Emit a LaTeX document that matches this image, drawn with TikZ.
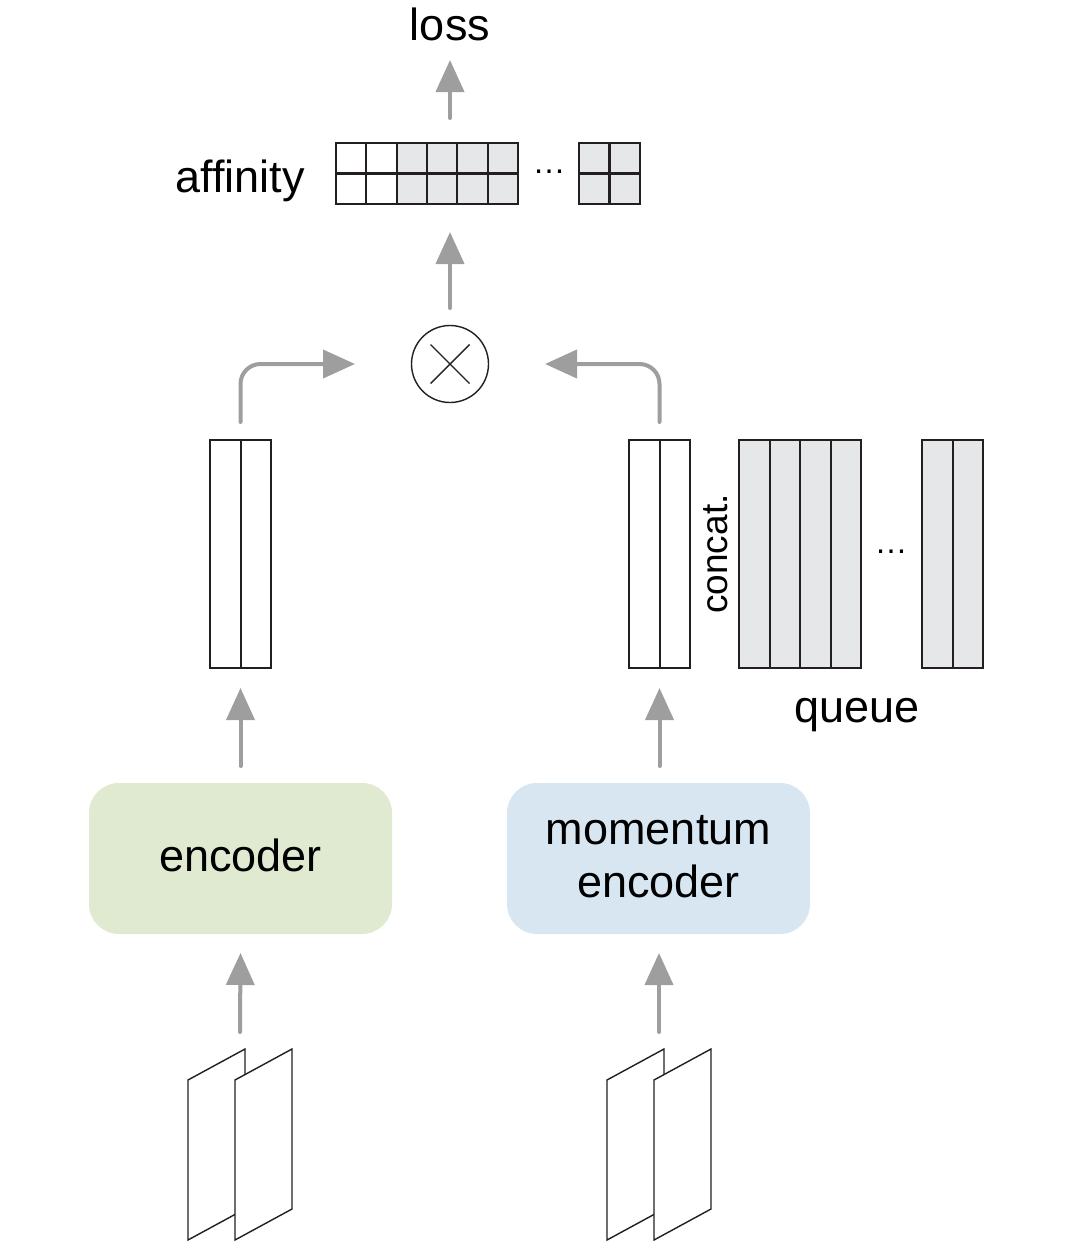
\documentclass[tikz,border=0pt]{standalone}
\usepackage{fontspec}
\setmainfont{Liberation Sans}
\usetikzlibrary{arrows.meta}
\definecolor{arrowgray}{RGB}{158,158,158}
\definecolor{cellgray}{RGB}{230,231,233}
\definecolor{encgreen}{RGB}{223,234,209}
\definecolor{encblue}{RGB}{215,230,241}
\definecolor{ink}{RGB}{35,31,32}
\begin{document}
\begin{tikzpicture}[x=1pt,y=-1pt,
  garrow/.style={draw=arrowgray, line width=4pt, line cap=round, -{Triangle[length=32pt,width=28pt]}},
  bigtext/.style={font=\fontsize{45}{52}\selectfont, inner sep=0pt, outer sep=0pt},
  smalltext/.style={font=\fontsize{37}{44}\selectfont, inner sep=0pt, outer sep=0pt},
  dotstext/.style={font=\fontsize{33}{33}\selectfont, inner sep=0pt, outer sep=0pt},
  shapebox/.style={rectangle, inner sep=0pt, outer sep=0pt},
  vecbox/.style={shapebox, draw=ink, line width=2pt, minimum width=61pt, minimum height=228pt},
  encbox/.style={shapebox, rounded corners=30pt, minimum width=303pt, minimum height=151pt},
  imgline/.style={draw=ink, line width=1.4pt, fill=white, line join=miter}
]
\useasboundingbox (0,0) rectangle (1087,1250);

% ---- top: loss and affinity ----
\node[bigtext, anchor=base] (loss) at (450,40) {loss};
\node[bigtext, anchor=base east] (afft) at (305,192) {affinity};

\node[shapebox, minimum width=182pt, minimum height=61pt] (aff) at (427,173.5) {};
\fill[cellgray] ([xshift=60.67pt]aff.north west) rectangle (aff.south east);
\foreach \k in {1,...,5}{
  \draw[ink, line width=2.3pt] ([xshift=\k*30.33pt]aff.north west) -- ([xshift=\k*30.33pt]aff.south west);
}
\draw[ink, line width=2.3pt] (aff.west) -- (aff.east);
\draw[ink, line width=2.3pt] (aff.north west) rectangle (aff.south east);

\node[dotstext, anchor=base] (affdots) at (549,173.5) {…};

\node[shapebox, fill=cellgray, minimum width=61pt, minimum height=61pt] (aff2) at (609.5,173.5) {};
\draw[ink, line width=2.3pt] (aff2.north) -- (aff2.south);
\draw[ink, line width=2.3pt] (aff2.west) -- (aff2.east);
\draw[ink, line width=2.3pt] (aff2.north west) rectangle (aff2.south east);

% ---- product ----
\node[circle, draw=ink, line width=1.4pt, minimum size=77pt, inner sep=0pt, outer sep=0pt] (ot) at (450,364) {};
\draw[ink, line width=1.4pt] ([shift={(-19.5pt,19.5pt)}]ot.center) -- ([shift={(19.5pt,-19.5pt)}]ot.center);
\draw[ink, line width=1.4pt] ([shift={(-19.5pt,-19.5pt)}]ot.center) -- ([shift={(19.5pt,19.5pt)}]ot.center);

% ---- feature vectors ----
\node[vecbox] (lv) at (240.5,554) {};
\draw[ink, line width=2pt] (lv.north) -- (lv.south);
\node[vecbox] (rv) at (659.5,554) {};
\draw[ink, line width=2pt] (rv.north) -- (rv.south);

\node[smalltext, anchor=base, rotate=90] (concat) at (727.5,554) {concat.};

\node[vecbox, fill=cellgray, minimum width=122pt] (q1) at (800,554) {};
\foreach \k in {1,2,3}{
  \draw[ink, line width=2pt] ([xshift=\k*30.5pt]q1.north west) -- ([xshift=\k*30.5pt]q1.south west);
}
\node[dotstext, anchor=base] (qdots) at (891,553.5) {…};
\node[vecbox, fill=cellgray] (q2) at (952.5,554) {};
\draw[ink, line width=2pt] (q2.north) -- (q2.south);

\node[bigtext, anchor=base] (queue) at (857,722) {queue};

% ---- encoders ----
\node[encbox, fill=encgreen] (enc) at (240.5,858.5) {};
\node[bigtext, anchor=base] (enctext) at (240.5,871) {encoder};
\node[encbox, fill=encblue] (menc) at (658.5,858.5) {};
\node[bigtext, anchor=base] (menct1) at (658.5,844) {momentum};
\node[bigtext, anchor=base] (menct2) at (658.5,897) {encoder};

% ---- input images ----
\coordinate (limg) at (240,1049);
\coordinate (rimg) at (659,1049);
\draw[imgline] (188,1080) -- (245,1049) -- (245,1209) -- (188,1240) -- cycle;
\draw[imgline] (235,1080) -- (292,1049) -- (292,1209) -- (235,1240) -- cycle;
\draw[imgline] (607,1080) -- (664,1049) -- (664,1209) -- (607,1240) -- cycle;
\draw[imgline] (654,1080) -- (711,1049) -- (711,1209) -- (654,1240) -- cycle;

% ---- arrows ----
\coordinate (afftop) at (aff.north -| loss.base);
\coordinate (affbot) at (aff.south -| ot.north);
\draw[garrow] ([yshift=25pt]afftop) -- ([yshift=-20pt]loss.base);
\draw[garrow] ([yshift=17.5pt]ot.north) -- ([yshift=-28pt]affbot);
\draw[garrow, rounded corners=20pt] ([yshift=18pt]lv.north) |- ([xshift=-56.5pt]ot.west);
\draw[garrow, rounded corners=20pt] ([yshift=18pt]rv.north) |- ([xshift=56.5pt]ot.east);
\draw[garrow] ([yshift=17pt]enc.north) -- ([yshift=-20pt]lv.south);
\draw[garrow] ([yshift=17pt]menc.north -| rv.south) -- ([yshift=-20pt]rv.south);
\draw[garrow] ([yshift=17pt]limg) -- ([yshift=-19pt]enc.south);
\draw[garrow] ([yshift=17pt]rimg) -- ([yshift=-19pt]menc.south -| rimg);
\end{tikzpicture}
\end{document}
